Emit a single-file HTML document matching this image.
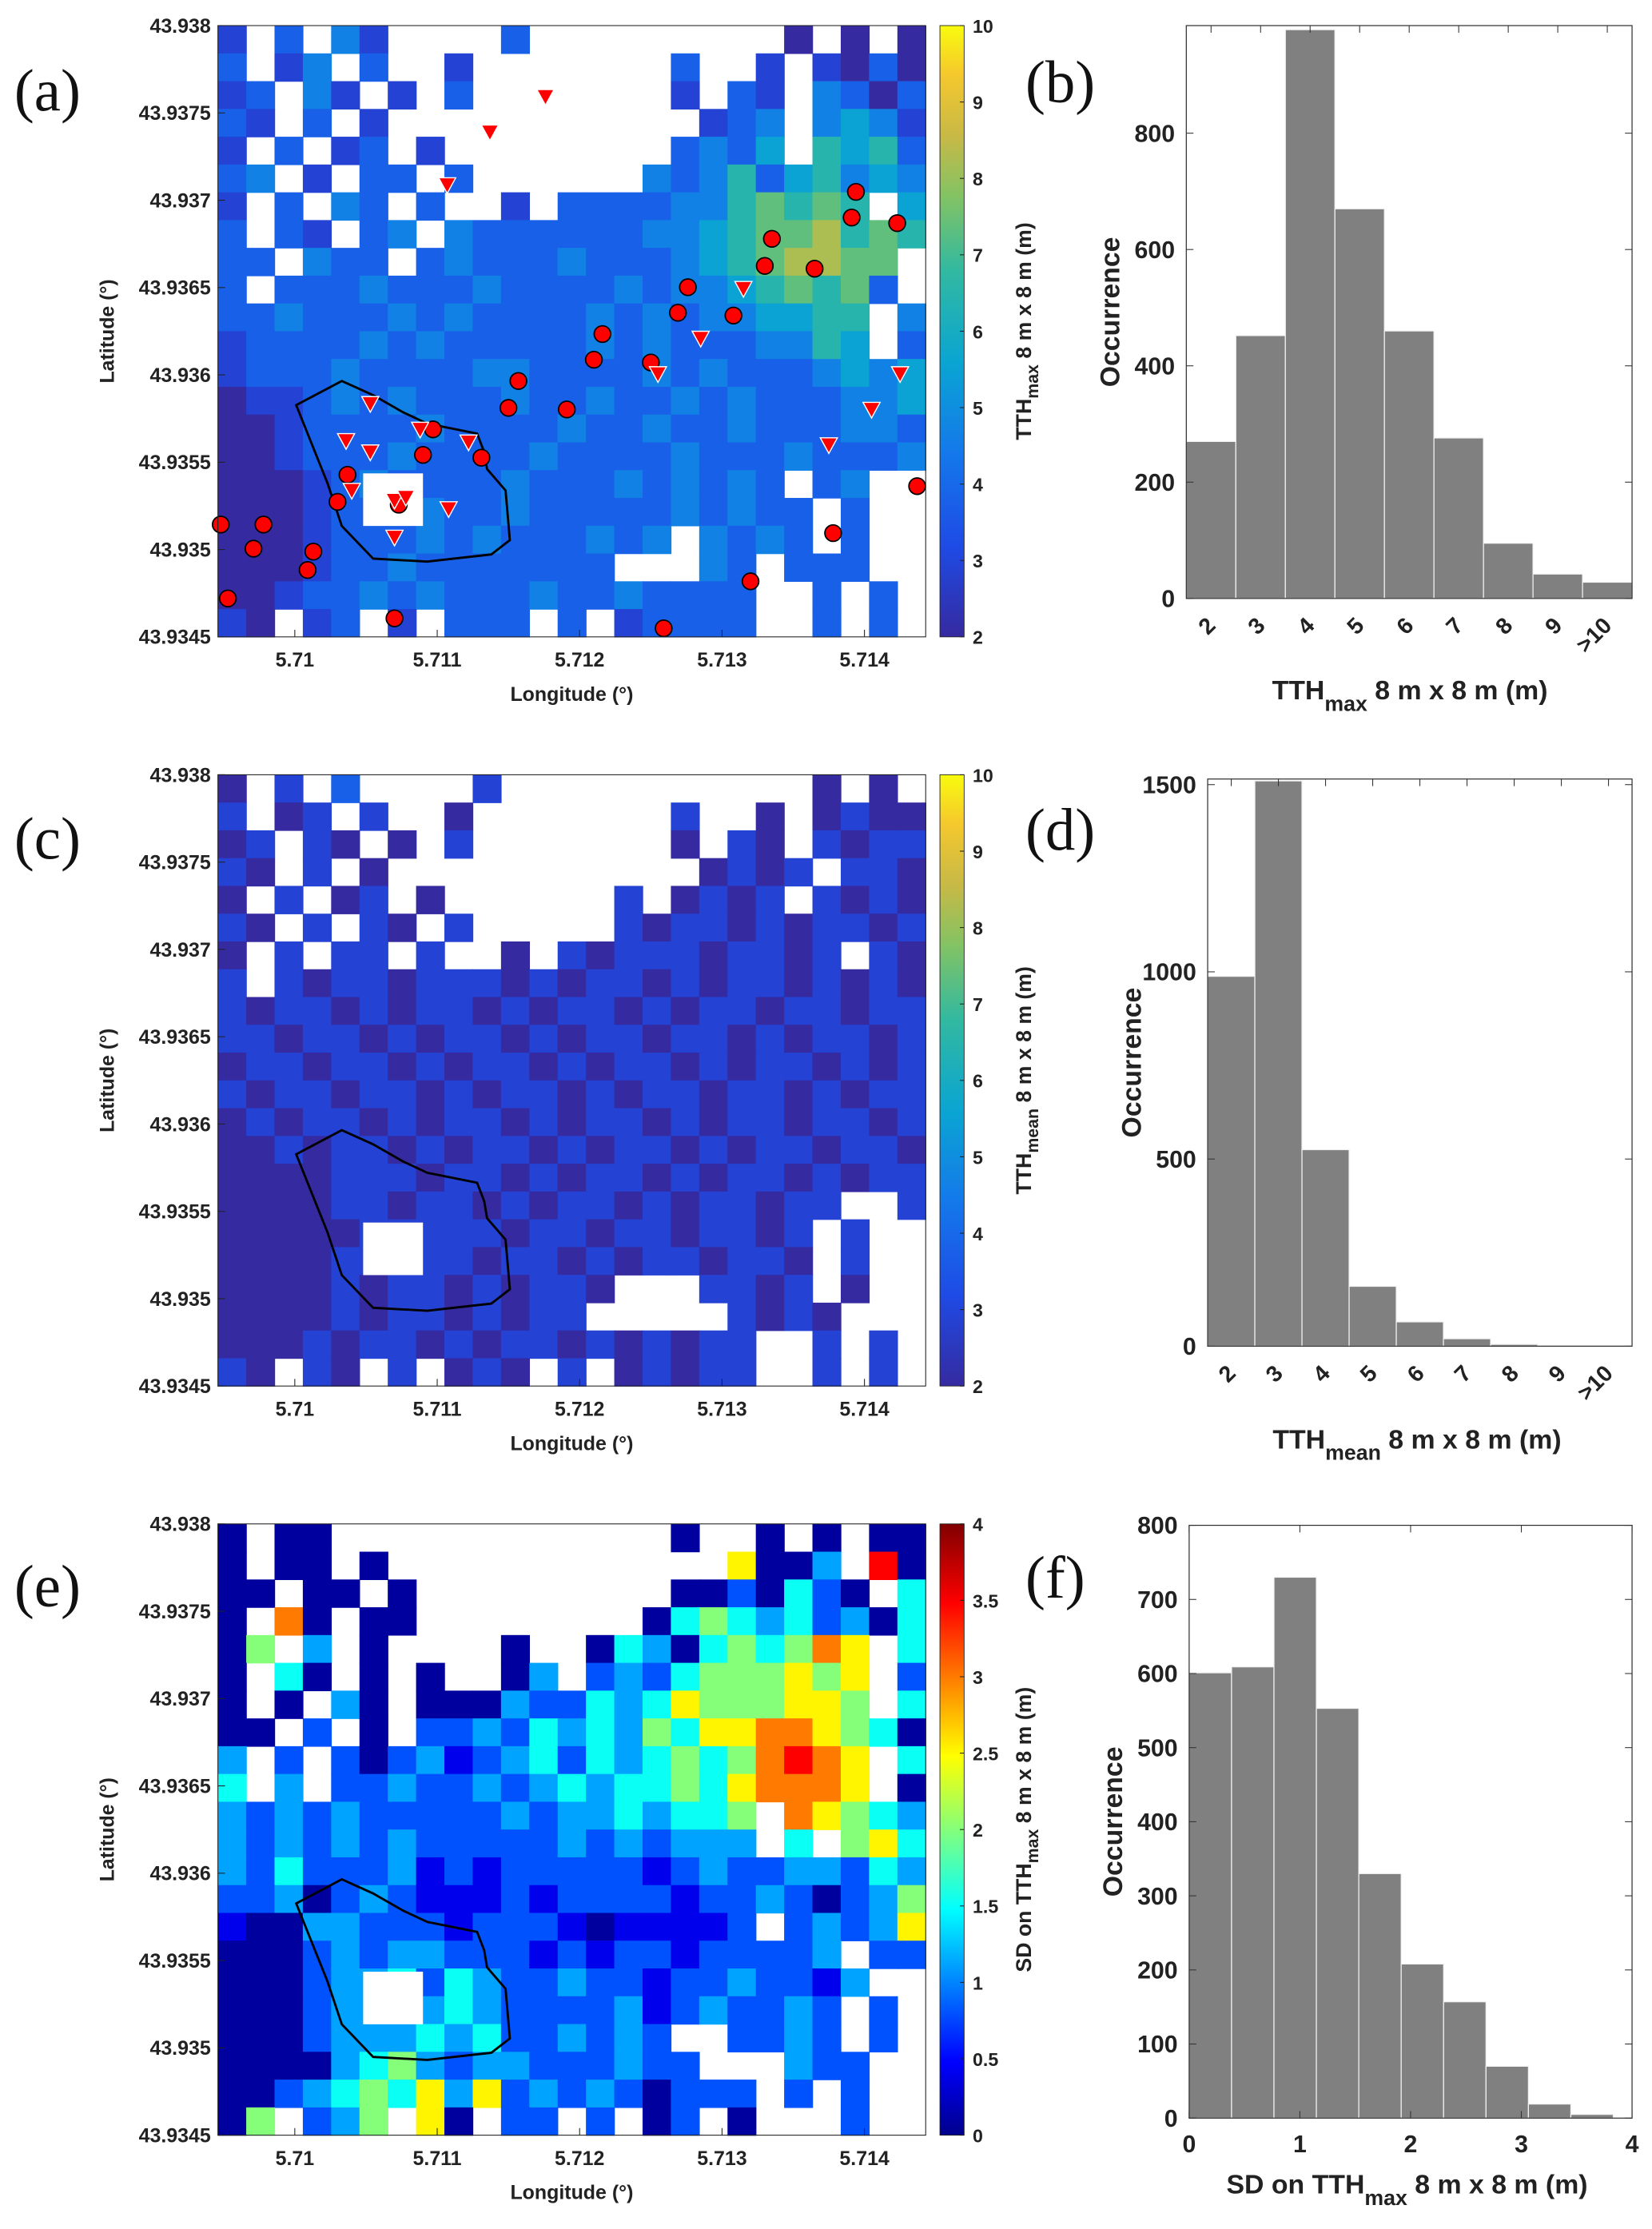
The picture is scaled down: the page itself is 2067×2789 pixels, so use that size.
<!DOCTYPE html>
<html><head><meta charset="utf-8"><title>TTH maps and histograms</title>
<style>
html,body{margin:0;padding:0;background:#fff;}
svg{display:block;}
text{font-family:"Liberation Sans",Arial,sans-serif;}
</style></head>
<body>
<svg id="fig" xmlns="http://www.w3.org/2000/svg" width="2067" height="2789" viewBox="0 0 1160 1568" preserveAspectRatio="none">
<defs>
<linearGradient id="gparula" x1="0" y1="1" x2="0" y2="0"></linearGradient>
<linearGradient id="gjet" x1="0" y1="1" x2="0" y2="0"></linearGradient>
</defs>
<g id="root"></g>
</svg>
<script>
// ---------- data ----------
const lonTicks=[5.71,5.711,5.712,5.713,5.714];
const latTicks=[43.938,43.9375,43.937,43.9365,43.936,43.9355,43.935,43.9345];
const latTickLabels=["43.938","43.9375","43.937","43.9365","43.936","43.9355","43.935","43.9345"];
const gridA=[
"1.2.31....2.........0.0.0",
"2.13.2..1.......2..1.1020",
"12.31.1.2.......1.21.3202",
"21.2.1...........123.3431",
"1.2.12.1........2324.5452",
"23.1.22.2......3235245343",
"1.2.32.2..1.22223356565.4",
"2.21.23.32222223345667565",
"22.322.23222322234567766.",
"2.2223222322223233456562.",
"22322232322223232334455.3",
"12222323222223232223354.2",
"1222322223322223232223434",
"0112323222322322323222334",
"0012222322223223223222332",
"0012223222232222322232223",
"00012322223222323232.23..",
"000122232232222232322.2..",
"0001222323222323.3232.2..",
"00012232222222...32.222..",
"0012232322232232222..2.2.",
"10.12.1.222.2.12222..2.2."];
const gridC=[
"0.1.2....1...........0.0.",
"1.01.1..0.......1..0.0100",
"01.10.0.1.......0.10.1011",
"10.1.0...........0101.110",
"0.1.01.0......1.0101.1010",
"10.1.10.1.....10110101101",
"0.1.11.1..0.1011101101.10",
"1.10110111010110101101010",
"1011010110101101011011011",
"1101101011010110110101101",
"0110110101101011010110101",
"1011011010110101101101011",
"0101101011010110101101101",
"0010110101101011010110110",
"0000111011010110101101011",
"0000110110101101011011..1",
"000001111101101101101.1..",
"000011011011010110110.1..",
"00001011010110...1101.0..",
"0000101101011.....1010...",
"0001011010110101011..1.1.",
"10.10.1.010.1.01011..1.1."];
const gridE=[
"0.00............0..0.0.00",
"0.00.0............6003.80",
"00.00.0.........0020420.4",
"0.70.00........0454342304",
"05.3.0....0..0430454576.4",
"0.40.0.0..03.2324555656.2",
"0.0.30.0003224346555665.4",
"00.2.0.223243435466776540",
"3.2.2023123424345457876.4",
"4.3.2232232343445467776.0",
"3232322222323343445.76543",
"3232323222223232333.4.564",
"3242223121222221232233243",
"2230232111212222122320235",
"1003322212221011112.23236",
"0002323322212122122223.22",
"00023342432232212232213..",
"0002334343222231232232.2.",
"0002333434223232..2232.2.",
"00003453233222322...322..",
"0023454636232320222.2.2..",
"05.235.60.22.2.02.0...2.."];
const levelsE=[0.02,0.1,0.2,0.28,0.38,0.5,0.63,0.75,0.87,0.97];
const levelsP=[0,0.11,0.22,0.33,0.44,0.56,0.67,0.78,0.89,1];
const circleLon=[5.70948,5.70978,5.70971,5.71013,5.71009,5.70953,5.71037,5.7103,5.7107,5.71073,5.7109,5.71097,5.71131,5.7115,5.71157,5.71191,5.7121,5.71216,5.7125,5.71269,5.71276,5.71308,5.7133,5.71335,5.71365,5.71391,5.71394,5.71423,5.71378,5.7132,5.71259,5.71437];
const circleLat=[43.935143,43.935143,43.935005,43.934988,43.934883,43.93472,43.935428,43.935273,43.934606,43.935257,43.935542,43.935688,43.935526,43.935811,43.935965,43.935802,43.936087,43.936234,43.936071,43.936356,43.936502,43.93634,43.936624,43.936779,43.936608,43.936901,43.937048,43.936869,43.935094,43.934818,43.934549,43.935363];
const triLon=[5.71176,5.71137,5.71107,5.71053,5.71036,5.71053,5.71088,5.71122,5.7107,5.7104,5.71108,5.7107,5.71255,5.71285,5.71315,5.71375,5.71405,5.71425,5.71078];
const triLat=[43.937593,43.93739,43.937088,43.935835,43.935623,43.935558,43.935688,43.935615,43.935281,43.935338,43.935233,43.93507,43.936006,43.936209,43.936494,43.935599,43.935802,43.936006,43.935298];
const polyLon=[5.71001,5.71033,5.71055,5.71076,5.71093,5.71128,5.71133,5.71135,5.71148,5.71151,5.71138,5.71093,5.71055,5.71033,5.71023,5.71011];
const polyLat=[43.935827,43.935965,43.935884,43.935786,43.935721,43.935664,43.935558,43.935461,43.935338,43.935054,43.934972,43.934931,43.934948,43.935135,43.935379,43.935623];
const histBcats=["2","3","4","5","6","7","8","9",">10"];
const histBvals=[270,452,978,670,460,276,95,42,28];
const histBticks=[0,200,400,600,800];
const histDcats=["2","3","4","5","6","7","8","9",">10"];
const histDvals=[988,1510,525,160,65,20,5,2,2];
const histDticks=[0,500,1000,1500];
const histFvals=[601,609,730,553,330,208,157,70,19,5];
const histFticks=[0,100,200,300,400,500,600,700,800];
const histFxticks=[0,1,2,3,4];
const cbAticks=[2,3,4,5,6,7,8,9,10];
const cbEticks=[0,0.5,1,1.5,2,2.5,3,3.5,4];
const cbEtickLabels=["0","0.5","1","1.5","2","2.5","3","3.5","4"];

// ---------- helpers ----------
const NS="http://www.w3.org/2000/svg";
const root=document.getElementById('root');
function mk(tag,attrs,parent){const e=document.createElementNS(NS,tag);for(const k in attrs)e.setAttribute(k,attrs[k]);(parent||root).appendChild(e);return e;}
function lerpStops(stops,f){f=Math.max(0,Math.min(1,f));for(let i=1;i<stops.length;i++){if(f<=stops[i][0]){const a=stops[i-1],b=stops[i];const t=(f-a[0])/(b[0]-a[0]||1);const c=[0,1,2].map(j=>Math.round(a[1][j]+(b[1][j]-a[1][j])*t));return `rgb(${c})`;}}const l=stops[stops.length-1][1];return `rgb(${l})`;}
const PARULA=[[0,[53,42,160]],[0.15,[30,75,230]],[0.3,[20,120,235]],[0.45,[10,165,210]],[0.6,[50,185,160]],[0.72,[130,195,100]],[0.82,[200,185,70]],[0.92,[245,200,45]],[1,[249,251,14]]];
const JET=[[0,[0,0,140]],[0.12,[0,0,255]],[0.37,[0,255,255]],[0.62,[255,255,0]],[0.87,[255,0,0]],[1,[128,0,0]]];
function parula(f){return lerpStops(PARULA,f);}
function jet(f){return lerpStops(JET,f);}
[['gparula',PARULA],['gjet',JET]].forEach(([id,st])=>{const g=document.getElementById(id);st.forEach(s=>{const e=document.createElementNS(NS,'stop');e.setAttribute('offset',s[0]);e.setAttribute('stop-color',`rgb(${s[1]})`);g.appendChild(e);});});

const MX0=153,MX1=650,MH=430;
const LON0=5.70946,LON1=5.71443,LAT0=43.9345,LAT1=43.938;
function lonX(l){return MX0+(l-LON0)/(LON1-LON0)*(MX1-MX0);}

function drawMap(name,y0,grid,cmap,levels,showMarkers){
  const g=mk('g',{});
  
  
  const latY=l=>y0+(LAT1-l)/(LAT1-LAT0)*MH;
  const rows=grid.length,cols=grid[0].length;
  const cw=(MX1-MX0)/cols,ch=MH/rows;
  for(let r=0;r<rows;r++)for(let c=0;c<cols;c++){
    const ch_=grid[r][c];if(ch_==='.')continue;
    const v=levels[parseInt(ch_)];
    const cell=mk('rect',{x:MX0+c*cw,y:y0+r*ch,width:cw+0.4,height:ch+0.4,fill:cmap(v)},g);
    
    
  }
  const sq=mk('rect',{x:lonX(5.71048),y:latY(43.935436),width:lonX(5.7109)-lonX(5.71048),height:latY(43.935135)-latY(43.935436),fill:'#fff'},g);
  
  
  const pts=polyLon.map((l,i)=>lonX(l)+','+latY(polyLat[i])).join(' ');
  const pg=mk('polygon',{points:pts,fill:'none',stroke:'#000','stroke-width':1.6},g);
  
  
  if(showMarkers){
    circleLon.forEach((l,i)=>{const c=mk('circle',{cx:lonX(l),cy:latY(circleLat[i]),r:5.8,fill:'#f00',stroke:'#000','stroke-width':1},g);
      
      });
    triLon.forEach((l,i)=>{const x=lonX(l),y=latY(triLat[i]);const t=mk('polygon',{points:`${x-6},${y-5} ${x+6},${y-5} ${x},${y+6}`,fill:'#f00',stroke:'#fff','stroke-width':0.8},g);
      
      });
  }
  const fr=mk('rect',{x:MX0,y:y0,width:MX1-MX0,height:MH,fill:'none',stroke:'#222','stroke-width':0.6});
  
  
  latTicks.forEach((l,i)=>{const y=latY(l);mk('line',{x1:MX0,x2:MX0+5,y1:y,y2:y,stroke:'#222','stroke-width':0.6});
    const t=mk('text',{x:MX0-5,y:y+5,'text-anchor':'end','font-size':14,'font-weight':'bold',fill:'#222'});t.textContent=latTickLabels[i];
    
    });
  lonTicks.forEach(l=>{const x=lonX(l);mk('line',{x1:x,x2:x,y1:y0+MH,y2:y0+MH-5,stroke:'#222','stroke-width':0.6});
    const t=mk('text',{x:x,y:y0+MH+21,'text-anchor':'middle','font-size':14,'font-weight':'bold',fill:'#222'});t.textContent=String(l);
    
    });
  const yl=mk('text',{x:0,y:0,transform:`translate(80,${y0+MH/2}) rotate(-90)`,'text-anchor':'middle','font-size':14,'font-weight':'bold',fill:'#222'});yl.textContent='Latitude (°)';
  
  
  const xl=mk('text',{x:(MX0+MX1)/2,y:y0+MH+45,'text-anchor':'middle','font-size':14,'font-weight':'bold',fill:'#222'});xl.textContent='Longitude (°)';
  
  
}
function drawColorbar(name,y0,grad,ticks,labels,vmin,vmax,title,sub,after){
  const x0=660,w=17;
  const r=mk('rect',{x:x0,y:y0,width:w,height:MH,fill:`url(#${grad})`,stroke:'#222','stroke-width':0.5});
  
  
  ticks.forEach((v,i)=>{const y=y0+MH-(v-vmin)/(vmax-vmin)*MH;
    mk('line',{x1:x0+w-3,x2:x0+w,y1:y,y2:y,stroke:'#222','stroke-width':0.6});
    const t=mk('text',{x:x0+w+6,y:y+5,'font-size':13,'font-weight':'bold',fill:'#222'});t.textContent=labels[i];
    
    });
  const t=mk('text',{x:0,y:0,transform:`translate(724,${y0+MH/2}) rotate(-90)`,'text-anchor':'middle','font-size':15,'font-weight':'bold',fill:'#222'});
  
  
  const a=document.createElementNS(NS,'tspan');a.textContent=title;t.appendChild(a);
  const b=document.createElementNS(NS,'tspan');b.setAttribute('dy','5');b.setAttribute('font-size','12');b.textContent=sub;t.appendChild(b);
  const c=document.createElementNS(NS,'tspan');c.setAttribute('dy','-5');c.textContent=after;t.appendChild(c);
}
function drawHist(name,x0,x1,y0,y1,vals,ymax,yticks,opt){
  const g=mk('g',{});
  
  
  const yS=v=>y1-v/ymax*(y1-y0);
  const n=vals.length;
  const bw=opt.binW?opt.binW*(x1-x0)/opt.xmax:(x1-x0)/n;
  vals.forEach((v,i)=>{const b=mk('rect',{x:x0+i*bw,y:yS(v),width:bw,height:y1-yS(v),fill:'#808080',stroke:'#f2f2f2','stroke-width':0.7},g);
    
    });
  mk('rect',{x:x0,y:y0,width:x1-x0,height:y1-y0,fill:'none',stroke:'#333','stroke-width':0.7},g);
  yticks.forEach(v=>{const y=yS(v);mk('line',{x1:x0,x2:x0+5,y1:y,y2:y,stroke:'#333','stroke-width':0.6},g);mk('line',{x1:x1,x2:x1-5,y1:y,y2:y,stroke:'#333','stroke-width':0.6},g);
    const t=mk('text',{x:x0-8,y:y+6,'text-anchor':'end','font-size':17,'font-weight':'bold',fill:'#222'},g);t.textContent=String(v);
    
    });
  if(opt.cats){opt.cats.forEach((c,i)=>{const x=x0+(i+0.5)*bw;mk('line',{x1:x,x2:x,y1:y0,y2:y0+5,stroke:'#333','stroke-width':0.6},g);
    const t=mk('text',{x:0,y:0,transform:`translate(${x+4},${y1+20}) rotate(-45)`,'text-anchor':'end','font-size':16,'font-weight':'bold',fill:'#222'},g);t.textContent=c;
    
    });}
  else{opt.xticks.forEach(v=>{const x=x0+v/opt.xmax*(x1-x0);mk('line',{x1:x,x2:x,y1:y0,y2:y0+5,stroke:'#333','stroke-width':0.6},g);mk('line',{x1:x,x2:x,y1:y1,y2:y1-5,stroke:'#333','stroke-width':0.6},g);
    const t=mk('text',{x:x,y:y1+24,'text-anchor':'middle','font-size':17,'font-weight':'bold',fill:'#222'},g);t.textContent=String(v);
    
    });}
  const yl=mk('text',{x:0,y:0,transform:`translate(${x0-47},${(y0+y1)/2}) rotate(-90)`,'text-anchor':'middle','font-size':19,'font-weight':'bold',fill:'#222'},g);yl.textContent='Occurrence';
  
  
  const xl=mk('text',{x:opt.xlx,y:opt.xly,'text-anchor':'middle','font-size':19,'font-weight':'bold',fill:'#222'},g);
  
  
  const a=document.createElementNS(NS,'tspan');a.textContent=opt.xt[0];xl.appendChild(a);
  const b=document.createElementNS(NS,'tspan');b.setAttribute('dy','8');b.setAttribute('font-size','15');b.textContent=opt.xt[1];xl.appendChild(b);
  const c=document.createElementNS(NS,'tspan');c.setAttribute('dy','-8');c.textContent=opt.xt[2];xl.appendChild(c);
}
function panelLetter(s,x,y){const t=mk('text',{x:x,y:y,'font-size':42,fill:'#111'});t.setAttribute('style','font-family:"Liberation Serif",serif');t.textContent=s;
  
  }

// ---------- draw ----------
drawMap('map-tth-max',18,gridA,parula,levelsP,true);
drawColorbar('colorbar-tth-max',18,'gparula',cbAticks,cbAticks.map(String),2,10,'TTH','max','  8 m x  8 m (m)');
drawMap('map-tth-mean',545,gridC,parula,levelsP,false);
drawColorbar('colorbar-tth-mean',545,'gparula',cbAticks,cbAticks.map(String),2,10,'TTH','mean','  8 m x  8 m (m)');
drawMap('map-sd',1072,gridE,jet,levelsE,false);
drawColorbar('colorbar-sd',1072,'gjet',cbEticks,cbEtickLabels,0,4,'SD on TTH','max','  8 m x  8 m (m)');

drawHist('histogram-tth-max',833,1146,18,421,histBvals,985,histBticks,{cats:histBcats,xlx:990,xly:492,xt:['TTH','max','   8 m x  8 m (m)']});
drawHist('histogram-tth-mean',848,1146,548,947,histDvals,1515,histDticks,{cats:histDcats,xlx:995,xly:1019,xt:['TTH','mean','   8 m x  8 m (m)']});
drawHist('histogram-sd',835,1146,1073,1490,histFvals,800,histFticks,{binW:0.383,xmax:4,xticks:histFxticks,xlx:988,xly:1543,xt:['SD on TTH','max','   8 m x  8 m (m)']});

panelLetter('(a)',10,78);panelLetter('(b)',720,72);
panelLetter('(c)',10,604);panelLetter('(d)',720,598);
panelLetter('(e)',10,1130);panelLetter('(f)',720,1124);
</script>
</body></html>
